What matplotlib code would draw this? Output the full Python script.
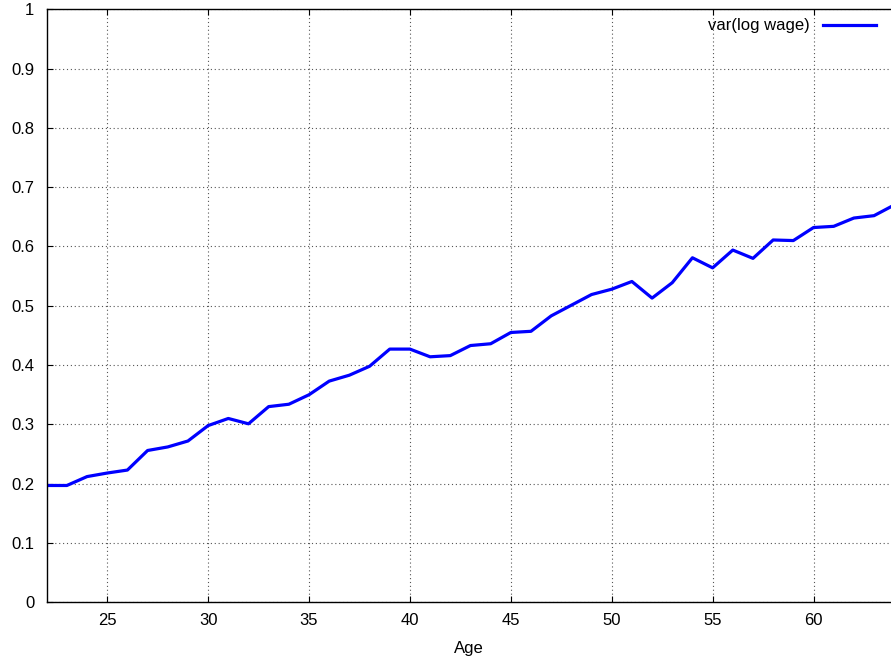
import matplotlib
matplotlib.use("Agg")
import matplotlib.pyplot as plt

plt.rcParams['font.family'] = ['Liberation Sans', 'DejaVu Sans']

ages = list(range(22, 65))
var_log_wage = [0.197, 0.197, 0.212, 0.218, 0.223, 0.256, 0.262, 0.272, 0.298, 0.310,
                0.301, 0.330, 0.334, 0.350, 0.373, 0.383, 0.398, 0.427, 0.427, 0.414,
                0.416, 0.433, 0.436, 0.455, 0.457, 0.483, 0.501, 0.519, 0.528, 0.541,
                0.513, 0.539, 0.581, 0.564, 0.594, 0.580, 0.611, 0.610, 0.632, 0.634,
                0.648, 0.652, 0.670]
xticks = [25, 30, 35, 40, 45, 50, 55, 60]
yticks = [0, 0.1, 0.2, 0.3, 0.4, 0.5, 0.6, 0.7, 0.8, 0.9, 1]
ytick_labels = ["0", "0.1", "0.2", "0.3", "0.4", "0.5", "0.6", "0.7", "0.8", "0.9", "1"]

fig = plt.figure(figsize=(8.91, 6.63), dpi=100)
ax = fig.add_axes([46.7/891, 60.7/663, 1 - 46.7/891, (602.3-9.3)/663])

ax.plot(ages, var_log_wage, color='#0000ff', lw=2.3, label='var(log wage)')
ax.set_xlim(22, 63.84)
ax.set_ylim(0, 1)
ax.set_xticks(xticks)
ax.set_yticks(yticks)
ax.set_yticklabels(ytick_labels)
ax.tick_params(direction='in', length=4.5, width=0.8, labelsize=12, top=True,
               right=False)
ax.tick_params(axis='y', pad=9)
ax.tick_params(axis='x', pad=8)
ax.grid(True, linestyle=(0, (1, 2.5)), color='#555555', lw=0.8)
for s in ['left', 'bottom', 'top']:
    ax.spines[s].set_linewidth(1.0)
ax.spines['right'].set_visible(False)
ax.set_xlabel('Age', fontsize=12, labelpad=9)

ax.legend(loc='center right', bbox_to_anchor=(0.982, 0.972), frameon=False,
          markerfirst=False, handlelength=3.18, handletextpad=0.78,
          borderpad=0, borderaxespad=0, fontsize=12)

fig.savefig('out.png', dpi=100)
